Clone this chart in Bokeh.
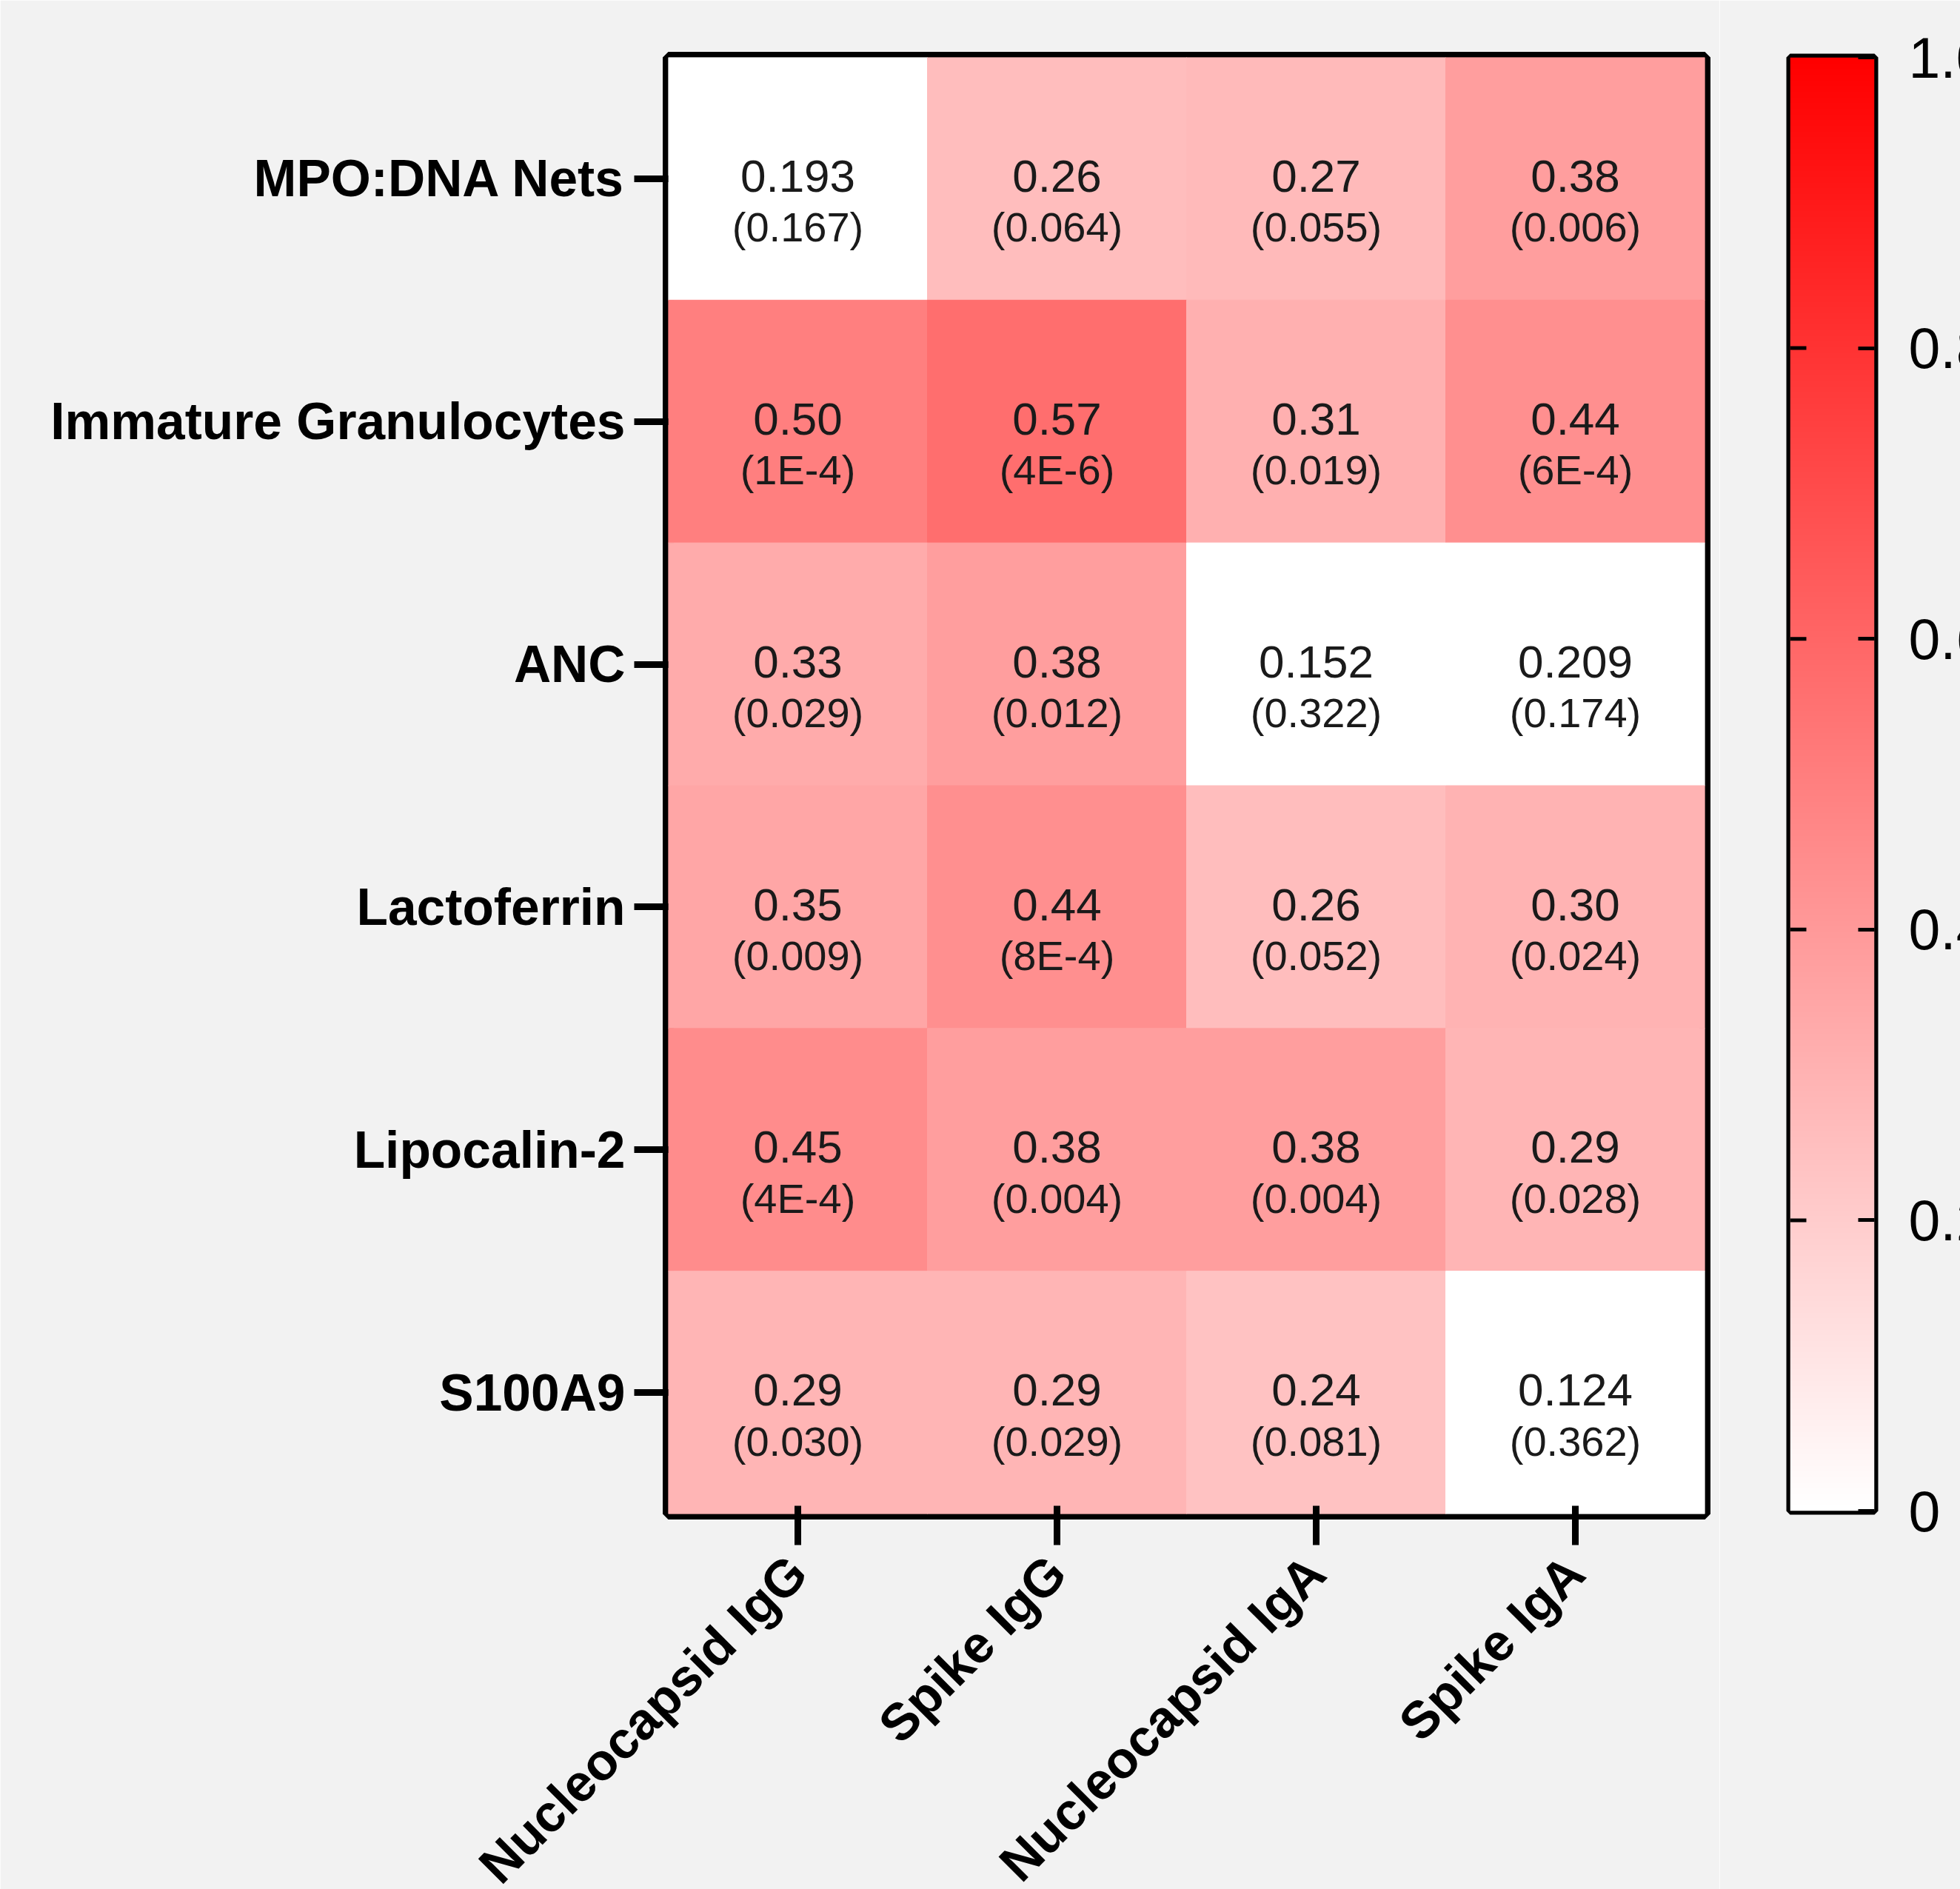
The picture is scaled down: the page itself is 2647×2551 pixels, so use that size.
import math
import numpy as np
from bokeh.plotting import figure
from bokeh.models import (ColumnDataSource, Range1d, FixedTicker,
                          LinearColorMapper)
from bokeh.transform import transform
from bokeh.layouts import row
from bokeh.core.properties import value
from bokeh.embed import file_html
from bokeh.resources import INLINE

# ---------------- data ----------------
rows = ["MPO:DNA Nets", "Immature Granulocytes", "ANC",
        "Lactoferrin", "Lipocalin-2", "S100A9"]
cols = ["Nucleocapsid IgG", "Spike IgG", "Nucleocapsid IgA", "Spike IgA"]

r_text = [
    ["0.193", "0.26", "0.27", "0.38"],
    ["0.50", "0.57", "0.31", "0.44"],
    ["0.33", "0.38", "0.152", "0.209"],
    ["0.35", "0.44", "0.26", "0.30"],
    ["0.45", "0.38", "0.38", "0.29"],
    ["0.29", "0.29", "0.24", "0.124"],
]
p_text = [
    ["0.167", "0.064", "0.055", "0.006"],
    ["1E-4", "4E-6", "0.019", "6E-4"],
    ["0.029", "0.012", "0.322", "0.174"],
    ["0.009", "8E-4", "0.052", "0.024"],
    ["4E-4", "0.004", "0.004", "0.028"],
    ["0.030", "0.029", "0.081", "0.362"],
]
# cells drawn in colour (the others are shown white)
coloured = [
    [False, True, True, True],
    [True, True, True, True],
    [True, True, False, False],
    [True, True, True, True],
    [True, True, True, True],
    [True, True, True, False],
]
cbar_ticks = [0.0, 0.2, 0.4, 0.6, 0.8, 1.0]
cbar_labels = ["0", "0.2", "0.4", "0.6", "0.8", "1.0"]

# ---------------- styles ----------------
BG = "#f2f2f2"
FONT = "Liberation Sans"
palette = ["#ff%02x%02x" % (255 - i, 255 - i) for i in range(256)]
mapper = LinearColorMapper(palette=palette, low=0, high=1)

xs, ys, ys1, ys2, fills, t1, t2 = [], [], [], [], [], [], []
for i, rname in enumerate(rows):
    for j, cname in enumerate(cols):
        xs.append(j + 0.5)
        ys.append(i + 0.5)
        ys1.append(i + 0.5 - 0.01)
        ys2.append(i + 0.5 + 0.2)
        fills.append(float(r_text[i][j]) if coloured[i][j] else 0.0)
        t1.append(r_text[i][j])
        t2.append("(" + p_text[i][j] + ")")

src = ColumnDataSource(dict(x=xs, y=ys, y1=ys1, y2=ys2, v=fills, t1=t1, t2=t2))

# ---------------- heatmap ----------------
p = figure(frame_width=1400, frame_height=1967,
           x_range=Range1d(0, len(cols)), y_range=Range1d(len(rows), 0),
           output_backend="svg", toolbar_location=None,
           min_border_left=902, min_border_top=77,
           min_border_right=20, min_border_bottom=507,
           background_fill_color=BG, border_fill_color=BG,
           outline_line_color="black", outline_line_width=15)
p.grid.visible = False

p.rect(x="x", y="y", width=1, height=1, source=src,
       fill_color=transform("v", mapper), line_color=transform("v", mapper),
       line_width=1)
p.text(x="x", y="y1", text="t1", source=src, text_font=value(FONT),
       text_font_size="62px", text_align="center", text_baseline="middle",
       text_color="#1a1a1a")
p.text(x="x", y="y2", text="t2", source=src, text_font=value(FONT),
       text_font_size="56px", text_align="center", text_baseline="middle",
       text_color="#1a1a1a")

ya = p.yaxis[0]
ya.ticker = FixedTicker(ticks=[i + 0.5 for i in range(len(rows))])
ya.major_label_overrides = {i + 0.5: n for i, n in enumerate(rows)}
ya.major_label_text_font = FONT
ya.major_label_text_font_style = "bold"
ya.major_label_text_font_size = "69.5px"
ya.major_label_text_color = "black"
ya.major_label_standoff = 12
ya.major_tick_in = 0
ya.major_tick_out = 46
ya.major_tick_line_width = 9
ya.major_tick_line_color = "black"
ya.minor_tick_line_color = None
ya.axis_line_color = None

xa = p.xaxis[0]
xa.ticker = FixedTicker(ticks=[j + 0.5 for j in range(len(cols))])
xa.major_label_overrides = {j + 0.5: n for j, n in enumerate(cols)}
xa.major_label_orientation = math.pi / 4
xa.major_label_text_font = FONT
xa.major_label_text_font_style = "bold"
xa.major_label_text_font_size = "70px"
xa.major_label_text_color = "black"
xa.major_label_standoff = 26
xa.major_tick_in = 11
xa.major_tick_out = 42
xa.major_tick_line_width = 9
xa.major_tick_line_color = "black"
xa.minor_tick_line_color = None
xa.axis_line_color = None

# ---------------- colour bar ----------------
c = figure(frame_width=114, frame_height=1963,
           x_range=Range1d(0, 1), y_range=Range1d(0, 1),
           output_backend="svg", toolbar_location=None,
           min_border_left=95, min_border_top=77,
           min_border_right=0, min_border_bottom=640,
           background_fill_color=BG, border_fill_color=BG,
           outline_line_color="black", outline_line_width=10,
           x_axis_location=None, y_axis_location="right")
c.grid.visible = False
grad = np.linspace(0, 1, 256).reshape(256, 1)
c.image(image=[grad], x=0, y=0, dw=1, dh=1, color_mapper=mapper)

inner = cbar_ticks[1:-1]
c.segment(x0=[0] * len(inner), x1=[22 / 114] * len(inner), y0=inner, y1=inner,
          line_color="black", line_width=5)

ca = c.yaxis[0]
ca.ticker = FixedTicker(ticks=cbar_ticks)
ca.major_label_overrides = {t: l for t, l in zip(cbar_ticks, cbar_labels)}
ca.major_label_text_font = FONT
ca.major_label_text_font_size = "77px"
ca.major_label_text_color = "black"
ca.major_label_standoff = 46
ca.major_tick_in = 22
ca.major_tick_out = 0
ca.major_tick_line_width = 5
ca.major_tick_line_color = "black"
ca.minor_tick_line_color = None
ca.axis_line_color = None

layout = row(p, c)
html = file_html(layout, INLINE)
html = html.replace("<body>", '<body style="background:%s;">' % BG, 1)
open("out.html", "w").write(html)
